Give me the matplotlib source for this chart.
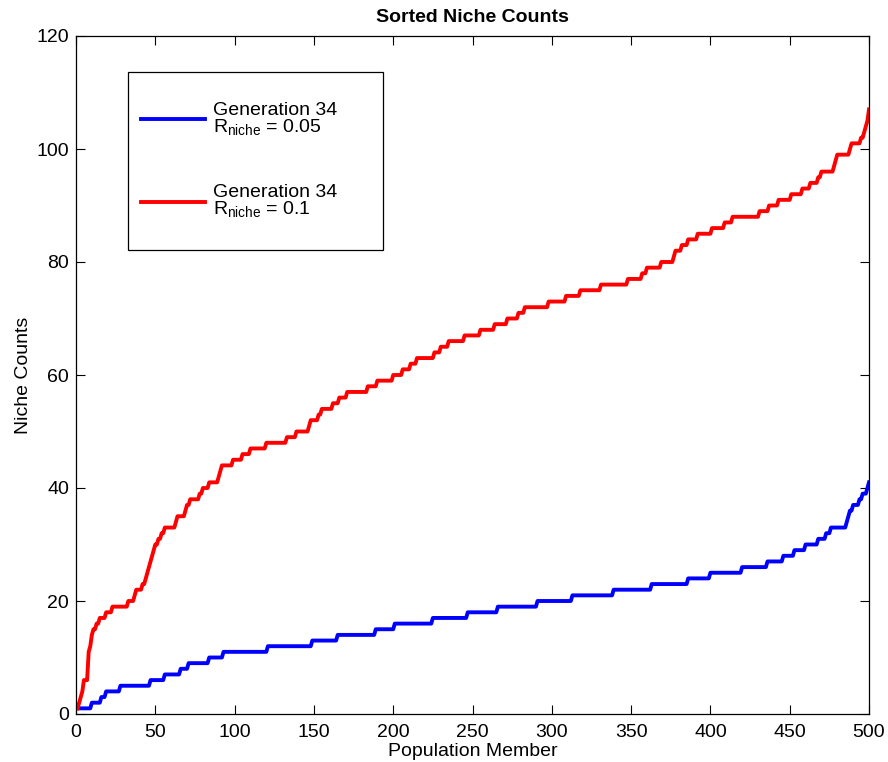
import numpy as np
import matplotlib
matplotlib.use("Agg")
import matplotlib.pyplot as plt
from matplotlib.patches import Rectangle

plt.rcParams['font.family'] = ['Liberation Sans', 'DejaVu Sans']
plt.rcParams['mathtext.fontset'] = 'custom'
plt.rcParams['mathtext.rm'] = 'Liberation Sans'
plt.rcParams['mathtext.it'] = 'Liberation Sans'

N_MEMBERS = 500

# Sorted niche counts stored as (level, first population member holding that level)
blue_levels = [1, 2, 3, 4, 5, 6, 7, 8, 9, 10, 11, 12, 13, 14, 15, 16, 17, 18, 19, 20,
               21, 22, 23, 24, 25, 26, 27, 28, 29, 30, 31, 32, 33, 34, 35, 36, 37, 38,
               39, 40, 41]
blue_first = [1, 10, 16, 19, 28, 47, 56, 66, 71, 84, 93, 121, 149, 165, 189, 201, 225,
              247, 266, 291, 313, 339, 363, 386, 400, 420, 436, 446, 453, 460, 468, 473,
              476, 486, 487, 488, 490, 494, 496, 499, 500]

red_levels = [1, 2, 3, 4, 6, 11, 12, 14, 15, 16, 17, 18, 19, 20, 21, 22, 23, 24, 25, 26,
              27, 28, 29, 30, 31, 32, 33, 34, 35, 36, 37, 38, 39, 40, 41, 42, 43, 44, 45,
              46, 47, 48, 49, 50, 51, 52, 53, 54, 55, 56, 57, 58, 59, 60, 61, 62, 63, 64,
              65, 66, 67, 68, 69, 70, 71, 72, 73, 74, 75, 76, 77, 78, 79, 80, 81, 82, 83,
              84, 85, 86, 87, 88, 89, 90, 91, 92, 93, 94, 95, 96, 97, 98, 99, 100, 101,
              102, 103, 104, 105, 107]
red_first = [1, 2, 3, 4, 5, 8, 9, 10, 11, 13, 15, 19, 23, 33, 37, 38, 42, 44, 45, 46,
             47, 48, 49, 50, 52, 54, 56, 63, 64, 69, 70, 72, 78, 80, 84, 90, 91, 92, 99,
             105, 110, 120, 133, 139, 147, 148, 153, 155, 162, 166, 171, 184, 190, 200,
             206, 211, 215, 226, 230, 235, 245, 255, 264, 272, 279, 283, 298, 309, 318,
             331, 348, 357, 360, 369, 377, 378, 382, 386, 392, 401, 409, 414, 431, 437,
             443, 451, 458, 463, 468, 470, 478, 479, 480, 488, 489, 495, 497, 498, 499,
             500]


def expand(levels, first, n):
    runs = np.diff(np.append(first, n + 1))
    return np.repeat(levels, runs)


blue_counts = expand(blue_levels, blue_first, N_MEMBERS)
red_counts = expand(red_levels, red_first, N_MEMBERS)
members = np.arange(1, N_MEMBERS + 1)

fig = plt.figure(figsize=(8.88, 7.62), dpi=100)
ax = fig.add_axes([76 / 888, 48 / 762, 793 / 888, 678 / 762])

ax.plot(members, blue_counts, color=(0, 0, 1), lw=2.8,
        label='Generation 34\n$\\mathregular{R_{niche}}$ = 0.05')
ax.plot(members, red_counts, color=(1, 0, 0), lw=2.8,
        label='Generation 34\n$\\mathregular{R_{niche}}$ = 0.1')

ax.set_xlim(0, 500)
ax.set_ylim(0, 120)
ax.set_xticks(np.arange(0, 501, 50))
ax.set_yticks(np.arange(0, 121, 20))
ax.tick_params(direction='in', length=6.5, width=0.8, labelsize=14,
               top=True, right=True)
ax.tick_params(axis='x', pad=7)
ax.tick_params(axis='y', pad=5)
for s in ax.spines.values():
    s.set_linewidth(0.9)

ax.set_title('Sorted Niche Counts', fontsize=14, fontweight='bold', pad=10)
ax.set_xlabel('Population Member', fontsize=14, labelpad=1.5)
ax.set_ylabel('Niche Counts', fontsize=14, labelpad=3)

# Legend frame drawn as a fixed-size box, entries placed inside it
ax.add_patch(Rectangle((52 / 793, 463 / 677), 255 / 793, 178 / 677,
                       transform=ax.transAxes, facecolor='white',
                       edgecolor='black', lw=0.9, zorder=4))
leg = ax.legend(loc='upper left', bbox_to_anchor=(65 / 793, 611 / 677),
                fontsize=14, frameon=False, borderaxespad=0, borderpad=0,
                labelspacing=2.45, handlelength=3.3, handletextpad=0.4)
leg.set_zorder(5)
for t in leg.get_texts():
    t.set_linespacing(0.85)

fig.savefig('out.png', dpi=100)
